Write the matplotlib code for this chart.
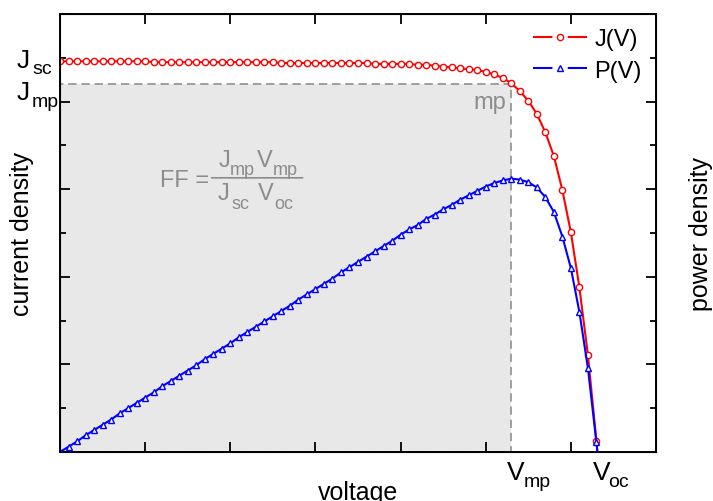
import numpy as np
import matplotlib
matplotlib.use('Agg')
import matplotlib.pyplot as plt
from matplotlib.lines import Line2D
from matplotlib.patches import Rectangle

plt.rcParams['font.family'] = ['Liberation Sans', 'DejaVu Sans']
plt.rcParams['lines.scale_dashes'] = False

# voltage grid (arb. units)
voltage = [0.0, 0.1, 0.2, 0.3, 0.4, 0.5, 0.6, 0.7, 0.8, 0.9,
           1.0, 1.1, 1.2, 1.3, 1.4, 1.5, 1.6, 1.7, 1.8, 1.9,
           2.0, 2.1, 2.2, 2.3, 2.4, 2.5, 2.6, 2.7, 2.8, 2.9,
           3.0, 3.1, 3.2, 3.3, 3.4, 3.5, 3.6, 3.7, 3.8, 3.9,
           4.0, 4.1, 4.2, 4.3, 4.4, 4.5, 4.6, 4.7, 4.8, 4.9,
           5.0, 5.1, 5.2, 5.3, 5.4, 5.5, 5.6, 5.7, 5.8, 5.9,
           6.0, 6.1, 6.2, 6.3, 6.4]
# current density J(V)
current = [4.46, 4.46, 4.46, 4.46, 4.46, 4.46, 4.46, 4.46, 4.46, 4.46,
           4.46, 4.45, 4.45, 4.45, 4.45, 4.45, 4.45, 4.45, 4.45, 4.45,
           4.45, 4.45, 4.45, 4.45, 4.45, 4.45, 4.44, 4.44, 4.44, 4.44,
           4.44, 4.44, 4.44, 4.44, 4.44, 4.44, 4.44, 4.43, 4.43, 4.43,
           4.43, 4.43, 4.42, 4.42, 4.41, 4.40, 4.39, 4.38, 4.37, 4.36,
           4.34, 4.31, 4.27, 4.21, 4.12, 4.01, 3.86, 3.65, 3.38, 2.99,
           2.51, 1.88, 1.11, 0.13, -0.90]
# power density P(V)
power = [0.00, 0.06, 0.12, 0.19, 0.25, 0.31, 0.37, 0.44, 0.50, 0.56,
         0.62, 0.68, 0.75, 0.81, 0.87, 0.93, 0.99, 1.06, 1.12, 1.18,
         1.24, 1.31, 1.37, 1.43, 1.49, 1.55, 1.61, 1.67, 1.74, 1.80,
         1.86, 1.92, 1.98, 2.05, 2.11, 2.17, 2.23, 2.29, 2.35, 2.41,
         2.48, 2.54, 2.59, 2.66, 2.71, 2.77, 2.82, 2.88, 2.93, 2.98,
         3.03, 3.07, 3.10, 3.12, 3.11, 3.08, 3.02, 2.91, 2.74, 2.46,
         2.10, 1.60, 0.96, 0.11, -0.80]

Vmp = 5.3
Voc = 6.31
Jmp = 4.2
Jsc = 4.46
grey = '#8c8c8c'

fig = plt.figure(figsize=(7.13, 5.02), dpi=100)
ax = fig.add_axes([60/713, 1-453/502, 596/713, 438/502])

ax.add_patch(Rectangle((0, 0), Vmp, Jmp, facecolor='#e8e8e8', edgecolor='#909090',
                       linestyle=(0, (6, 3.5)), linewidth=1.2, zorder=0))

ax.plot(voltage, current, color='red', lw=1.5, marker='o', ms=4.5,
        mfc='white', mec='red', mew=1.0, zorder=3)
ax.plot(voltage, power, color='blue', lw=1.5, marker='^', ms=5,
        mfc='white', mec='blue', mew=1.0, zorder=3)

ax.set_xlim(0, 7)
ax.set_ylim(0, 5)
ax.set_xticks([1, 2, 3, 4, 5, 6])
ax.set_yticks([0, 1, 2, 3, 4, 5])
ax.set_yticks([0.5, 1.5, 2.5, 3.5, 4.5], minor=True)
ax.tick_params(which='both', direction='in', top=True, labelbottom=False,
               labelleft=False, width=1.3)
ax.tick_params(which='major', length=7)
ax.tick_params(which='minor', length=4)
for s in ax.spines.values():
    s.set_linewidth(1.4)

ax2 = ax.twinx()
ax2.set_ylim(0, 5)
ax2.set_yticks([0, 1, 2, 3, 4, 5])
ax2.set_yticks([0.5, 1.5, 2.5, 3.5, 4.5], minor=True)
ax2.tick_params(which='both', direction='in', labelright=False, width=1.3)
ax2.tick_params(which='major', length=7)
ax2.tick_params(which='minor', length=4)
ax2.set_ylabel('power density', fontsize=18, labelpad=24)

ax.set_xlabel('voltage', fontsize=18, labelpad=20)
ax.set_ylabel('current density', fontsize=18, labelpad=19)


def sub_label(target, xy, main, sub, dmain, dsub, size=19, subsize=14, color='black'):
    # main letter centred at offset dmain, subscript left-aligned at dsub (pixels)
    target.annotate(main, xy=xy, xytext=dmain, textcoords='offset pixels',
                    ha='center', va='baseline', fontsize=size, color=color,
                    annotation_clip=False)
    target.annotate(sub, xy=xy, xytext=dsub, textcoords='offset pixels',
                    ha='left', va='baseline', fontsize=subsize, color=color,
                    annotation_clip=False)


# axis annotations
sub_label(ax, (0, Jsc), 'J', 'sc', (-37, -6), (-28, -12))
sub_label(ax, (0, Jmp), 'J', 'mp', (-37, -15), (-28, -22))
sub_label(ax, (Vmp, 0), 'V', 'mp', (4, -27), (12, -34))
sub_label(ax, (Voc, 0), 'V', 'oc', (4, -27), (11, -34))

ax.annotate('mp', xy=(Vmp, Jmp), xytext=(-5, -24), textcoords='offset pixels',
            fontsize=17, color=grey, ha='right', va='baseline')

# fill factor formula, anchored at the right end of the fraction bar
anchor = (2.85, 3.13)
ax.annotate('', xy=anchor, xytext=(-91, 0), textcoords='offset pixels',
            arrowprops=dict(arrowstyle='-', color=grey, lw=1.2, shrinkA=0, shrinkB=0))
ax.annotate('FF =', xy=anchor, xytext=(-143, -8), textcoords='offset pixels',
            fontsize=17, color=grey, ha='left', va='baseline')
sub_label(ax, anchor, 'J', 'mp', (-78, 12), (-73, 4), size=17, subsize=13, color=grey)
sub_label(ax, anchor, 'V', 'mp', (-38, 12), (-30, 4), size=17, subsize=13, color=grey)
sub_label(ax, anchor, 'J', 'sc', (-79, -21), (-71, -30), size=17, subsize=13, color=grey)
sub_label(ax, anchor, 'V', 'oc', (-37, -21), (-28, -30), size=17, subsize=13, color=grey)

hJ = (Line2D([], [], color='red', lw=1.5, linestyle=(0, (14, 11))),
      Line2D([], [], color='red', ls='none', marker='o', ms=4.5, mfc='white', mew=1.0))
hP = (Line2D([], [], color='blue', lw=1.5, linestyle=(0, (14, 11))),
      Line2D([], [], color='blue', ls='none', marker='^', ms=5, mfc='white', mew=1.0))
ax.legend([hJ, hP], ['J(V)', 'P(V)'], loc='upper right', frameon=False, fontsize=17,
          handlelength=2.3, handletextpad=0.3, labelspacing=0.4,
          borderaxespad=0.2, numpoints=1)

fig.savefig('out.png', dpi=100)
